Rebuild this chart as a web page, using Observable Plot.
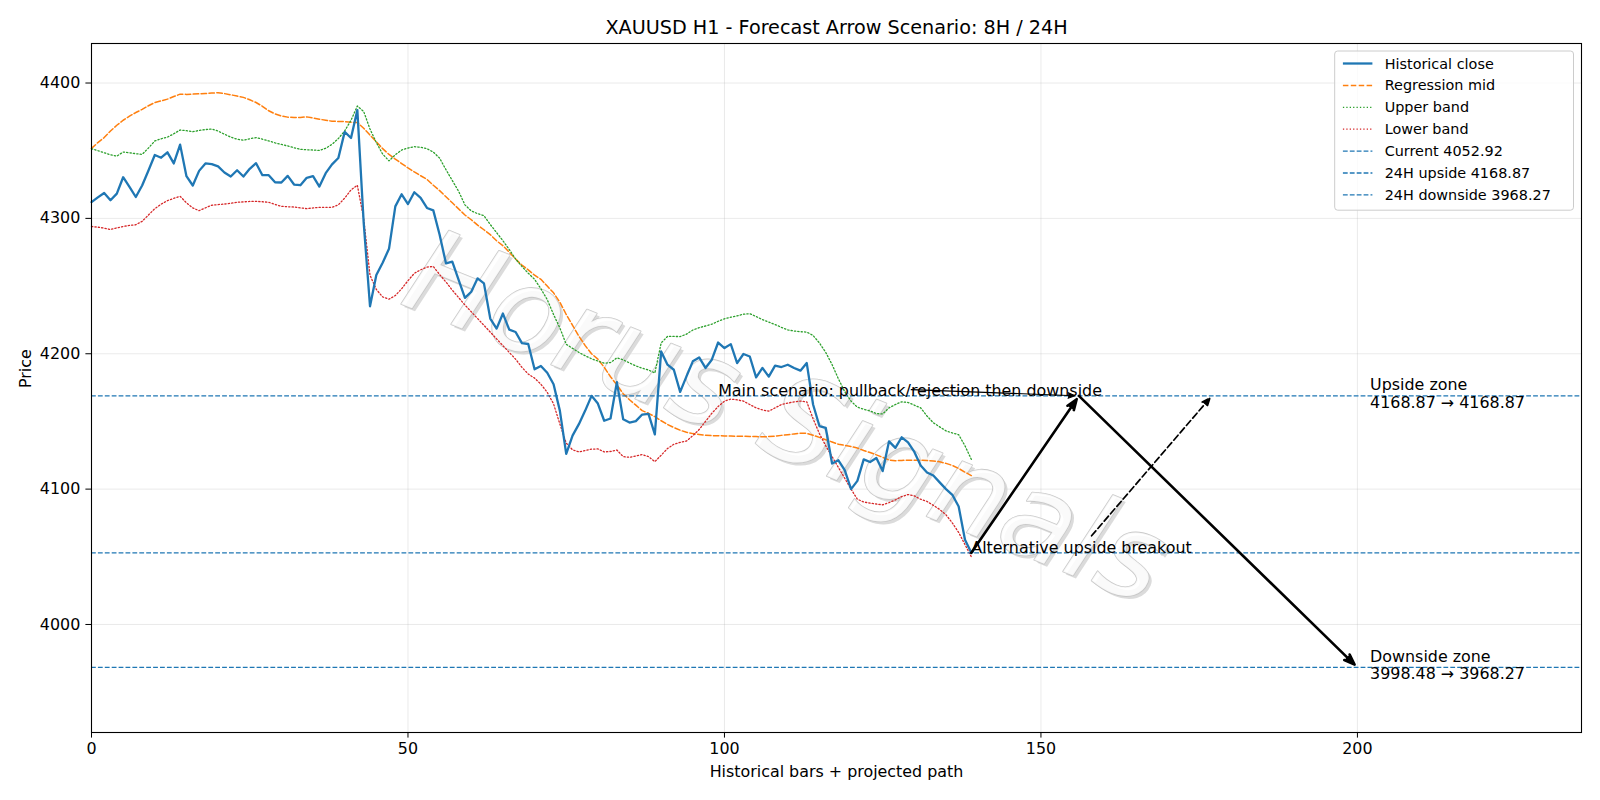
<!DOCTYPE html>
<html>
<head>
<meta charset="utf-8">
<script src="https://cdn.jsdelivr.net/npm/d3@7"></script>
<script src="https://cdn.jsdelivr.net/npm/@observablehq/plot@0.6"></script>
<style>
  body { margin: 0; background: #fff; }
  #chart svg { display: block; }
</style>
</head>
<body>
<div id="chart"></div>
<script>
// XAUUSD H1 closes with regression channel (mid / upper / lower), bar index 0..139
const close = [
  4312, 4315.5, 4318.8, 4313.4, 4318.3, 4330.4, 4323.3, 4315.8, 4324.3, 4335.4,
  4346.8, 4344.8, 4348.8, 4340.6, 4354.5, 4331.2, 4324.3, 4335.1, 4340.6, 4340.1,
  4338.4, 4333.9, 4330.9, 4335.6, 4330.9, 4336.6, 4340.8, 4331.9, 4331.9, 4326.7,
  4326.5, 4331.4, 4325.0, 4324.5, 4330.0, 4331.2, 4323.5, 4333.4, 4339.9, 4344.6,
  4363.9, 4359.4, 4380.0, 4297, 4235.1, 4258.2, 4267.3, 4277.5, 4308.9, 4317.8,
  4310.6, 4319.3, 4315.1, 4307.7, 4305.9, 4287.9, 4266.8, 4268.1, 4254.5, 4241.3,
  4245.8, 4255.7, 4252.0, 4226.0, 4218.6, 4229.7, 4217.8, 4216.1, 4207.9, 4207.2,
  4188.5, 4191, 4186, 4177.5, 4157.8, 4126, 4139.5, 4148, 4158, 4168.9,
  4163.2, 4150.5, 4152.2, 4179, 4151.6, 4149.2, 4150.2, 4155.1, 4155.6, 4140.4,
  4201.7, 4191.9, 4188.2, 4171.8, 4183.3, 4194.4, 4197.3, 4189.5, 4195.6, 4208.3,
  4204.2, 4207.1, 4193.1, 4199.8, 4198.0, 4182.6, 4189.5, 4183.1, 4191.2, 4190.2,
  4191.9, 4189.5, 4187.5, 4193.1, 4162.5, 4146.6, 4145.3, 4118.9, 4121.3, 4114.0,
  4100.0, 4106.1, 4122, 4120, 4123, 4113.3, 4135.3, 4130.5, 4138.3, 4134.5,
  4127.5, 4117.5, 4112.3, 4110, 4105, 4100, 4095.8, 4087.2, 4062.6, 4052.92
];

const mid = [
  4351.7, 4356, 4359.7, 4364.6, 4368.8, 4372.5, 4375.5, 4378.2, 4380.5, 4383.2,
  4385.6, 4386.8, 4388.1, 4390, 4391.8, 4391.6, 4391.8, 4392, 4392.3, 4392.6,
  4392.8, 4392.2, 4391.3, 4390.4, 4389.4, 4387.6, 4385.6, 4382.8, 4379.5, 4377.2,
  4375.7, 4374.8, 4374.5, 4374.6, 4375, 4374.2, 4373.3, 4372.5, 4371.8, 4371.6,
  4371.5, 4371, 4370.8, 4366.6, 4361.5, 4356.5, 4351.5, 4347.3, 4343.8, 4340.5,
  4337.3, 4334.3, 4331.5, 4328.8, 4324.5, 4320.5, 4316, 4311.5, 4307, 4302.5,
  4299, 4295, 4291.6, 4288, 4283.5, 4279.8, 4275, 4270, 4265.5, 4262,
  4258, 4255, 4250, 4245, 4238, 4229, 4221, 4213, 4206, 4200,
  4196, 4190, 4183, 4177, 4170.5, 4166, 4162, 4158, 4156, 4153.5,
  4150.5, 4147.8, 4145.5, 4143.5, 4142, 4141, 4140.4, 4139.8, 4139.5, 4139.4,
  4139.3, 4139.2, 4139.1, 4139, 4138.9, 4138.8, 4138.7, 4138.8, 4139.2, 4139.7,
  4140.2, 4140.8, 4141.3, 4141.2, 4139.8, 4138.2, 4136.5, 4134.8, 4133.2, 4132.3,
  4131.5, 4130.3, 4128.5, 4127, 4125.3, 4123.5, 4121.5, 4121, 4121.2, 4121.3,
  4121.3, 4121.3, 4121.1, 4120.8, 4120.2, 4119, 4117.5, 4115.3, 4112.5, 4110
];

const upper = [
  4351.5, 4350, 4348.5, 4347, 4346, 4349, 4348.5, 4347.8, 4347.3, 4352,
  4357.2, 4358.8, 4360, 4362.5, 4365.3, 4364.8, 4364, 4365, 4365.6, 4366,
  4364.5, 4362.2, 4360, 4358.5, 4357.7, 4358.8, 4359.7, 4358.5, 4357.2, 4355.8,
  4354.6, 4353.5, 4352.2, 4351, 4350.7, 4350.5, 4350.2, 4351.8, 4354.7, 4359,
  4364.6, 4372.5, 4383, 4379, 4366, 4356, 4347.5, 4342.5, 4347, 4350.5,
  4352, 4353, 4352.5, 4351.5, 4349, 4344.5, 4336, 4328, 4320, 4310,
  4305.5, 4303.5, 4302, 4295.5, 4289.5, 4283.5, 4277, 4270, 4264.5, 4259.5,
  4255, 4248, 4240, 4229, 4219, 4207, 4204, 4201, 4198.5, 4196.3,
  4194.6, 4193, 4193.5, 4197, 4195.5, 4193.2, 4191, 4189.3, 4188, 4185.8,
  4208, 4212.8, 4212.8, 4212.7, 4214.5, 4217.5, 4219.3, 4220.5, 4221.8, 4224,
  4225.8, 4227, 4228, 4229.2, 4229.6, 4227.5, 4225.2, 4223.4, 4221.6, 4219.5,
  4217.6, 4216.8, 4216.3, 4216, 4213.5, 4208, 4201, 4192, 4181.5, 4172,
  4165, 4160.5, 4159, 4157.8, 4155.8, 4155.5, 4160, 4162.5, 4164.5, 4164,
  4162, 4160, 4154, 4149, 4146, 4143, 4141.5, 4140.2, 4132, 4122
];

const lower = [
  4294, 4293.5, 4292.8, 4291.8, 4293, 4294, 4294.8, 4295.3, 4297.8, 4302.5,
  4307.2, 4310.5, 4313.1, 4314.8, 4316.3, 4311.5, 4307.7, 4305.7, 4307.8, 4309.7,
  4310.2, 4310.6, 4311.2, 4311.9, 4312.2, 4312.5, 4312.6, 4312.3, 4311.9, 4310.3,
  4308.9, 4308.6, 4308.4, 4307.8, 4307.2, 4307.7, 4308.2, 4308.2, 4308.2, 4310,
  4315, 4321, 4324.5, 4300, 4258, 4247.5, 4242, 4240.3, 4243, 4248,
  4254, 4259.4, 4262, 4264, 4264.5, 4258.5, 4253, 4247, 4241.5, 4236,
  4231, 4226, 4221, 4216, 4211, 4206, 4201, 4196, 4190, 4185,
  4182, 4177.5, 4171.5, 4163, 4148, 4134, 4129, 4127.5, 4128.5, 4129.5,
  4129.7, 4127.5, 4127.8, 4128.9, 4124, 4123.5, 4124.5, 4125.5, 4124, 4120.3,
  4125, 4130, 4133.1, 4134.5, 4135.5, 4139.5, 4144, 4150, 4156, 4161,
  4165, 4166.5, 4166, 4165, 4162.5, 4160, 4158.5, 4157.6, 4160, 4162.5,
  4163.5, 4164.5, 4165, 4164.5, 4152, 4141, 4132, 4124, 4116, 4108,
  4100, 4092.5, 4090.5, 4089.7, 4089, 4088.4, 4090, 4092, 4094.5, 4096,
  4095, 4092.5, 4090.9, 4088, 4085, 4081, 4075, 4068, 4059, 4050
];

// Key levels
const currentPrice = 4052.92;
const upside24H = 4168.87;
const downside24H = 3968.27;
const upsideZone = [4168.87, 4168.87];
const downsideZone = [3998.48, 3968.27];

// Projected path (bar index, price)
const lastBar = 139;
const peakBar = 156;
const targetBar = 200;
const altStart = [158, 4065.5];
const altBar = 177;
const noteStart = [129.5, 4173.5];
const mainNoteBar = 99;
const zoneLabelBar = 202;

const xTicks = [0, 50, 100, 150, 200];
const yTicks = [4000, 4100, 4200, 4300, 4400];
const xDomain = [0, 235.4];
const yDomain = [3920.2, 4429.2];

const titleText = "XAUUSD H1 - Forecast Arrow Scenario: 8H / 24H";
const xLabel = "Historical bars + projected path";
const yLabel = "Price";
const watermarkText = "Horus Signals";

const C_BLUE = "#1f77b4", C_ORANGE = "#ff7f0e", C_GREEN = "#2ca02c", C_RED = "#d62728";

const bars = close.map((c, i) => ({i, close: c, mid: mid[i], upper: upper[i], lower: lower[i]}));

const mainPath = [
  {x1: lastBar, y1: currentPrice, x2: peakBar, y2: upside24H},
  {x1: peakBar, y1: upside24H, x2: targetBar, y2: downside24H}
];
const altPath = [{x1: altStart[0], y1: altStart[1], x2: altBar, y2: upside24H}];
const notePath = [{x1: noteStart[0], y1: noteStart[1], x2: peakBar, y2: upside24H}];

const fmt = v => v.toFixed(2);
const notes = [
  {x: mainNoteBar, y: upside24H, text: "Main scenario: pullback/rejection then downside"},
  {x: lastBar, y: currentPrice, text: "Alternative upside breakout"}
];
const zones = [
  {x: zoneLabelBar, y: upside24H, text: `Upside zone\n${fmt(upsideZone[0])} \u2192 ${fmt(upsideZone[1])}`},
  {x: zoneLabelBar, y: downside24H, text: `Downside zone\n${fmt(downsideZone[0])} \u2192 ${fmt(downsideZone[1])}`}
];

const FONT = "DejaVu Sans, Verdana, sans-serif";
const FS = 15.9;        // tick labels, axis labels, annotations
const FS_TITLE = 19.2;
const FS_LEGEND = 14.4;

const chart = Plot.plot({
  width: 1600,
  height: 800,
  marginTop: 43,
  marginBottom: 68,
  marginLeft: 91,
  marginRight: 19,
  style: {fontFamily: FONT, fontSize: FS + "px", color: "black", background: "white", overflow: "visible"},
  x: {domain: xDomain, ticks: xTicks, tickSize: 5.6, tickPadding: 5, tickFormat: d => String(d), label: null},
  y: {domain: yDomain, ticks: yTicks, tickSize: 5.6, tickPadding: 5.6, tickFormat: d => String(d), label: null},
  marks: [
    // grid
    Plot.ruleX(xTicks, {stroke: "#b0b0b0", strokeOpacity: 0.3, strokeWidth: 0.9}),
    Plot.ruleY(yTicks, {stroke: "#b0b0b0", strokeOpacity: 0.3, strokeWidth: 0.9}),

    // watermark (shadow + outlined face)
    Plot.text([watermarkText], {
      frameAnchor: "middle", dx: -47, dy: 34, rotate: 22,
      fontSize: 118, fontStyle: "italic", fill: "#d2d2d2", fillOpacity: 0.8
    }),
    Plot.text([watermarkText], {
      frameAnchor: "middle", dx: -50, dy: 31, rotate: 22,
      fontSize: 118, fontStyle: "italic", fill: "white", fillOpacity: 0.85,
      stroke: "#c4c4c4", strokeWidth: 1.6, strokeOpacity: 0.9
    }),

    // channel and closes
    Plot.line(bars, {x: "i", y: "mid", stroke: C_ORANGE, strokeWidth: 1.5, strokeDasharray: "5.5,2.4"}),
    Plot.line(bars, {x: "i", y: "upper", stroke: C_GREEN, strokeWidth: 1.3, strokeDasharray: "1.3,2.1"}),
    Plot.line(bars, {x: "i", y: "lower", stroke: C_RED, strokeWidth: 1.3, strokeDasharray: "1.3,2.1"}),
    Plot.line(bars, {x: "i", y: "close", stroke: C_BLUE, strokeWidth: 2.3}),

    // key levels
    Plot.ruleY([currentPrice, upside24H, downside24H], {stroke: C_BLUE, strokeWidth: 1.3, strokeDasharray: "4.8,2.1"}),

    // projected path arrows (filled heads)
    Plot.arrow(mainPath, {x1: "x1", y1: "y1", x2: "x2", y2: "y2", stroke: "black", fill: "black", strokeWidth: 2.6, headLength: 6.5, headAngle: 40, insetEnd: 4}),
    Plot.arrow(altPath, {x1: "x1", y1: "y1", x2: "x2", y2: "y2", stroke: "black", fill: "black", strokeWidth: 1.7, strokeDasharray: "6.5,3.2", headLength: 7.5, headAngle: 45, insetEnd: 3}),
    Plot.arrow(notePath, {x1: "x1", y1: "y1", x2: "x2", y2: "y2", stroke: "black", fill: "black", strokeWidth: 1.1, headLength: 10, headAngle: 45, insetEnd: 4}),

    // annotations
    Plot.text(notes, {x: "x", y: "y", text: "text", textAnchor: "start", lineAnchor: "bottom", fill: "black", fontSize: FS}),
    Plot.text(zones, {x: "x", y: "y", text: "text", textAnchor: "start", lineAnchor: "middle", lineHeight: 1.1, dy: -2.5, fill: "black", fontSize: FS}),

    // title and axis labels
    Plot.text([titleText], {frameAnchor: "top", dy: -16, lineAnchor: "middle", fontSize: FS_TITLE, fill: "black"}),
    Plot.text([xLabel], {frameAnchor: "bottom", dy: 39.5, lineAnchor: "middle", fontSize: FS, fill: "black"}),
    Plot.text([yLabel], {frameAnchor: "left", dx: -65.5, rotate: -90, lineAnchor: "middle", fontSize: FS, fill: "black"}),

    Plot.frame({stroke: "black", strokeWidth: 1.1})
  ]
});

document.getElementById("chart").appendChild(chart);

// Legend box, upper right inside the axes
const legendItems = [
  {label: "Historical close", color: C_BLUE, width: 2.3, dash: null},
  {label: "Regression mid", color: C_ORANGE, width: 1.5, dash: "5.5,2.4"},
  {label: "Upper band", color: C_GREEN, width: 1.3, dash: "1.3,2.1"},
  {label: "Lower band", color: C_RED, width: 1.3, dash: "1.3,2.1"},
  {label: `Current ${fmt(currentPrice)}`, color: C_BLUE, width: 1.3, dash: "4.8,2.1"},
  {label: `24H upside ${fmt(upside24H)}`, color: C_BLUE, width: 1.3, dash: "4.8,2.1"},
  {label: `24H downside ${fmt(downside24H)}`, color: C_BLUE, width: 1.3, dash: "4.8,2.1"}
];

const svg = d3.select(chart);
const lg = svg.append("g")
  .attr("font-family", FONT)
  .attr("font-size", FS_LEGEND)
  .attr("text-anchor", "start");
const boxX = 1334.7, boxY = 51, boxW = 238.8, boxH = 159.2, rowY0 = 63.5, rowStep = 21.9;
lg.append("rect")
  .attr("x", boxX).attr("y", boxY).attr("width", boxW).attr("height", boxH)
  .attr("rx", 3).attr("fill", "white").attr("fill-opacity", 0.8)
  .attr("stroke", "#cccccc").attr("stroke-width", 1);
legendItems.forEach((d, k) => {
  const y = rowY0 + k * rowStep;
  lg.append("line")
    .attr("x1", 1342.9).attr("x2", 1372.4).attr("y1", y).attr("y2", y)
    .attr("stroke", d.color).attr("stroke-width", d.width)
    .attr("stroke-dasharray", d.dash);
  lg.append("text")
    .attr("x", 1384.7).attr("y", y).attr("dy", "0.35em")
    .attr("text-anchor", "start")
    .attr("fill", "black").text(d.label);
});
</script>
</body>
</html>
